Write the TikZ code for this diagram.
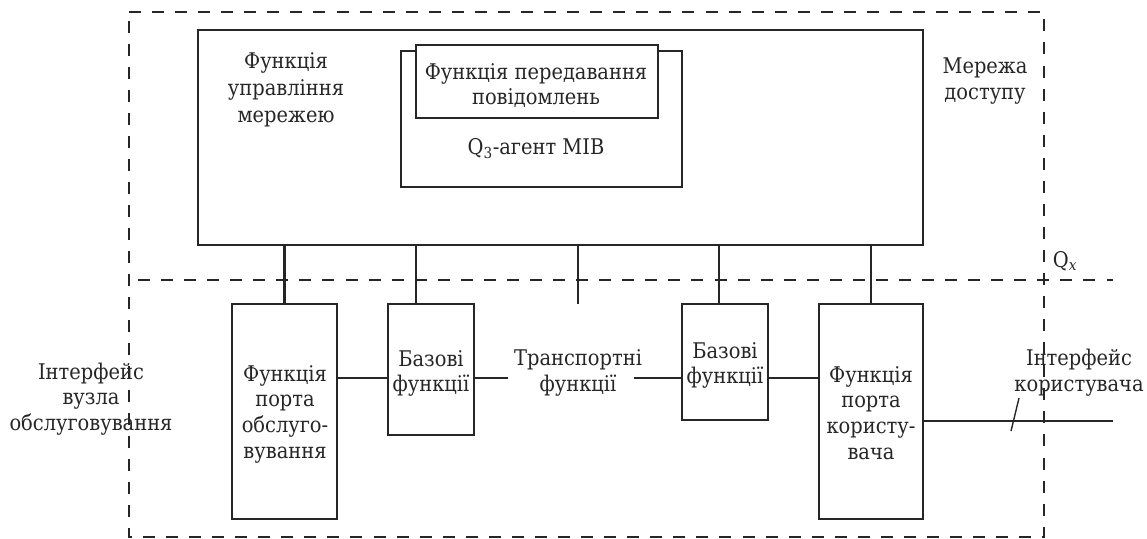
\documentclass[tikz,border=0pt]{standalone}
\usepackage{fontspec}
\setmainfont{DejaVu Serif Condensed}
\tikzset{
  x=1pt,y=-1pt,
  box/.style={draw=black!85,line width=2.3pt,fill=white,inner sep=0pt,outer sep=0pt,anchor=north west},
  wire/.style={draw=black!85,line width=2.3pt},
  bound/.style={draw=black!85,line width=2.2pt,dash pattern=on 12pt off 11.06pt},
  lbl/.style={align=center,font=\fontsize{21.6}{25.7}\selectfont,inner sep=0pt,text=black!85}
}
\begin{document}
\begin{tikzpicture}
\useasboundingbox (0,0) rectangle (1147,538);
\fill[white] (0,0) rectangle (1147,538);
% dashed boundaries
\draw[bound] (129,12) -- (1044,12) -- (1044,537) -- (129,537) -- cycle;
\draw[bound] (138,280) -- (1113,280);
% boxes
\node[box,minimum width=725pt,minimum height=215pt] (nm) at (198,30) {};
\node[box,minimum width=281pt,minimum height=136pt] (mib) at (401,51) {};
\node[box,minimum width=242pt,minimum height=73pt] (msg) at (416,45) {};
\node[box,minimum width=105pt,minimum height=215pt] (pa) at (232,304) {};
\node[box,minimum width=86pt,minimum height=131pt] (ba) at (388,304) {};
\node[box,minimum width=86pt,minimum height=116pt] (bb) at (682,304) {};
\node[box,minimum width=104pt,minimum height=215pt] (pb) at (819,304) {};
% vertical stubs
\coordinate (e2) at (416,304);
\coordinate (e3) at (578,304);
\coordinate (e4) at (719,304);
\draw[wire] (nm.south -| pa.north) -- (pa.north);
\draw[wire] (nm.south -| e2) -- (e2);
\draw[wire] (nm.south -| e3) -- (e3);
\draw[wire] (nm.south -| e4) -- (e4);
\draw[wire] (nm.south -| pb.north) -- (pb.north);
% horizontal links
\coordinate (row) at (0,378);
\coordinate (tl) at (508,378); \coordinate (tr) at (634,378);
\coordinate (userend) at (1113,421);
\coordinate (tick1) at (1011,431); \coordinate (tick2) at (1019,398);
\draw[wire] (pa.east |- row) -- (ba.west |- row);
\draw[wire] (ba.east |- row) -- (tl);
\draw[wire] (tr) -- (bb.west |- row);
\draw[wire] (bb.east |- row) -- (pb.west |- row);
\draw[wire] (pb.east |- userend) -- (userend);
\draw[draw=black!85,line width=1.4pt] (tick1) -- (tick2);
% labels
\node[lbl,font=\fontsize{21.6}{27}\selectfont] (l1) at (286,90) {Функція\\управління\\мережею};
\node[lbl] (l2) at (536,85.5) {Функція передавання\\повідомлень};
\node[lbl] (l3) at (536,149) {Q\textsubscript{3}-агент МІВ};
\node[lbl] (l4) at (985,81) {Мережа\\доступу};
\node[lbl] (l5) at (1065,261) {Q\textsubscript{\textit{x}}};
\node[lbl] (l6) at (91,399) {Інтерфейс\\вузла\\обслуговування};
\node[lbl] (l7) at (285,414) {Функція\\порта\\обслуго-\\вування};
\node[lbl] (l8) at (431,373.5) {Базові\\функції};
\node[lbl] (l9) at (578,373) {Транспортні\\функції};
\node[lbl] (l10) at (725,365.5) {Базові\\функції};
\node[lbl] (l11) at (871,413) {Функція\\порта\\користу-\\вача};
\node[lbl] (l12) at (1079,372.5) {Інтерфейс\\користувача};
\end{tikzpicture}
\end{document}
